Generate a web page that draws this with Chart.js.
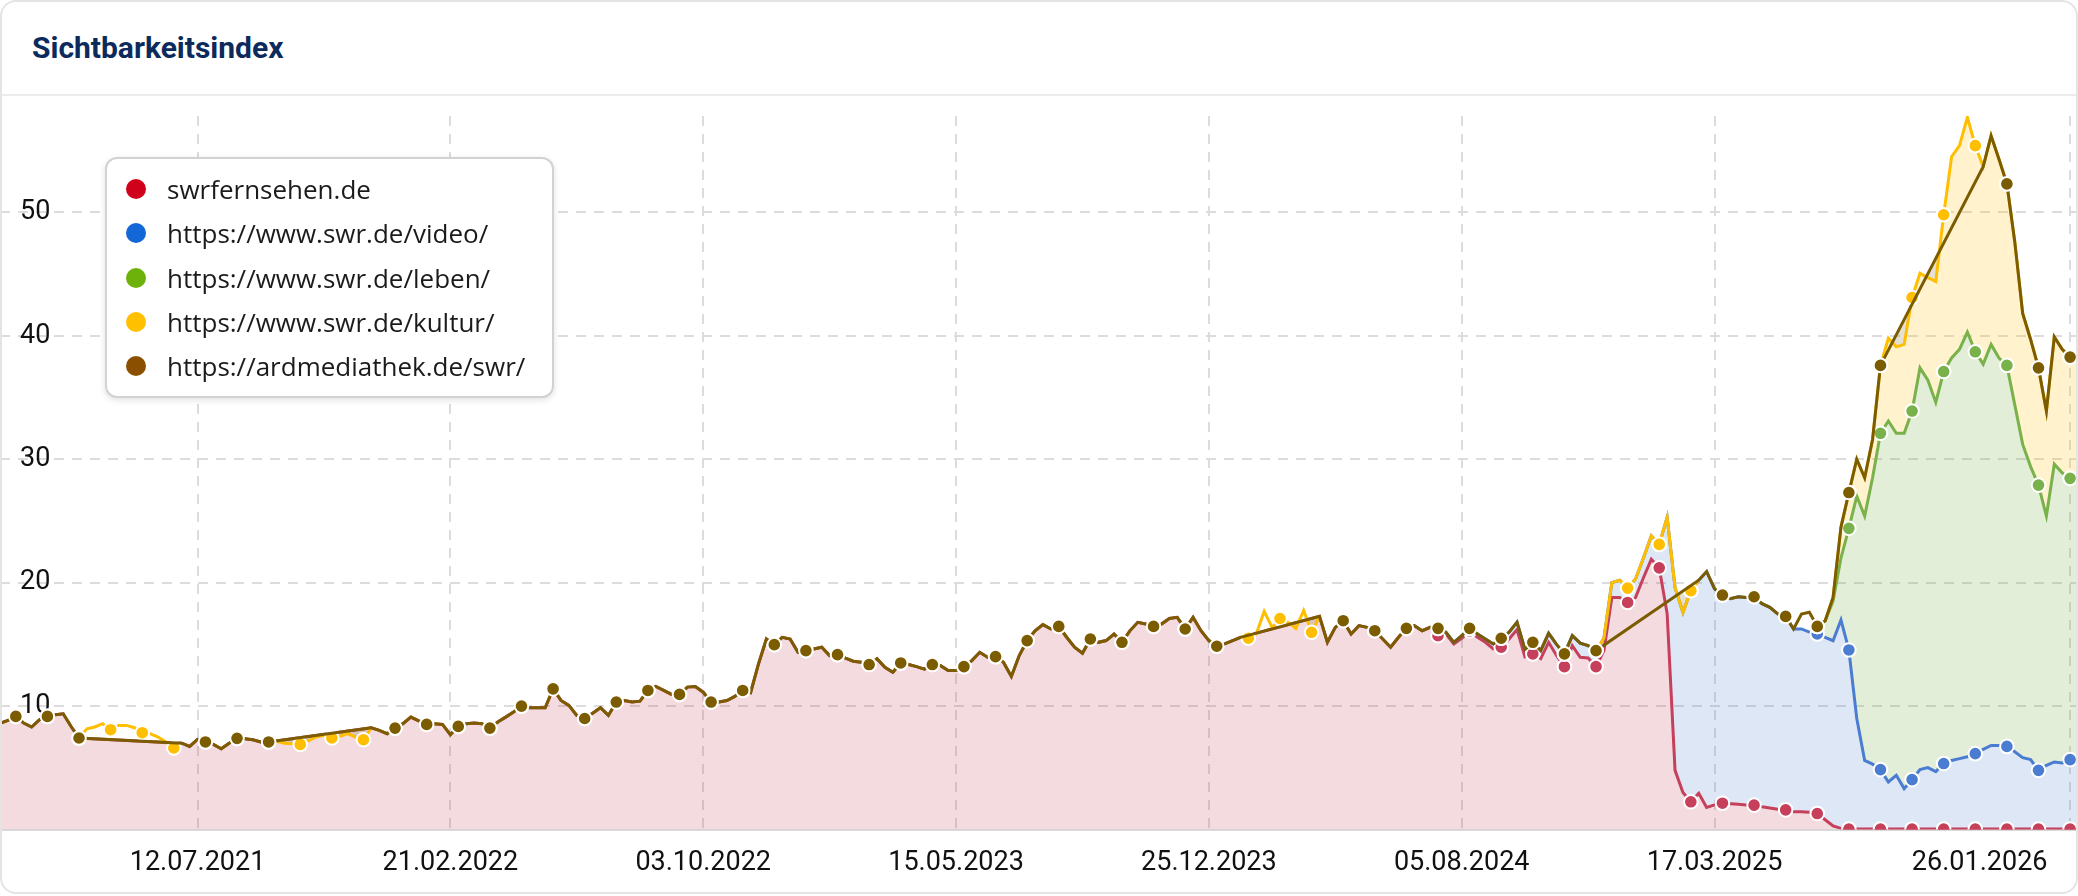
<!DOCTYPE html>
<html>
<head>
<meta charset="utf-8">
<script src="https://cdn.jsdelivr.net/npm/chart.js@4.4.1/dist/chart.umd.min.js"></script>
<style>
  html, body { margin: 0; padding: 0; background: #ffffff; }
  #card { position: relative; width: 2078px; height: 896px; overflow: hidden; background: #fff; font-family: Roboto, "Noto Sans", sans-serif; }
  #frame { position: absolute; left: 0; top: 0; width: 2074px; height: 890px; border: 2px solid #e4e4e4; border-radius: 16px; pointer-events: none; z-index: 5; }
  #title { position: absolute; left: 32px; top: 28px; font-weight: 700; font-size: 30px; line-height: 40px; color: #0c2b5c; }
  #sep { position: absolute; left: 0; top: 94px; width: 2078px; height: 2px; background: #ececec; }
  #wrap { position: absolute; left: 0; top: 96px; width: 2078px; height: 800px; }
  #legend { position: absolute; left: 105px; top: 157px; width: 449px; box-sizing: border-box; padding: 8px 0; background: #fff; border: 2px solid #d2d2d2; border-radius: 12px; box-shadow: 0 2px 6px rgba(0,0,0,0.12); z-index: 4; }
  .row { display: flex; align-items: center; height: 44.3px; }
  .dot { width: 20px; height: 20px; border-radius: 50%; margin-left: 19px; flex: none; }
  .txt { margin-left: 21px; font-family: "Open Sans", Roboto, sans-serif; font-size: 26px; color: #1b1b1b; white-space: nowrap; }
</style>
</head>
<body>
<div id="card">
  <div id="title">Sichtbarkeitsindex</div>
  <div id="sep"></div>
  <div id="wrap"><canvas id="c"></canvas></div>
  <div id="legend"></div>
  <div id="frame"></div>
</div>
<script>
// ---- categories (weekly) and tick labels ----
const firstWeekUTC = [2021, 0, 18];
const weekCount = 264;
const weeks = [];
for (let i = 0; i < weekCount; i++) {
  const d = new Date(Date.UTC(firstWeekUTC[0], firstWeekUTC[1], firstWeekUTC[2] + 7 * i));
  weeks.push(String(d.getUTCDate()).padStart(2, '0') + '.' + String(d.getUTCMonth() + 1).padStart(2, '0') + '.' + d.getUTCFullYear());
}
const tickLabels = ['12.07.2021', '21.02.2022', '03.10.2022', '15.05.2023', '25.12.2023', '05.08.2024', '17.03.2025', '26.01.2026'];
const yTicks = [10, 20, 30, 40, 50];

const seriesNames = ['swrfernsehen.de', 'https://www.swr.de/video/', 'https://www.swr.de/leben/', 'https://www.swr.de/kultur/', 'https://ardmediathek.de/swr/'];

// ---- series values (one per week, null = no value) ----
const swrfernsehen = [
8.6,8.85,9.17,8.63,8.31,8.9,9.17,9.3,9.38,8.35,7.42,
null,null,null,null,null,null,null,null,null,null,null,null,
7.0,6.74,7.3,7.1,6.9,6.55,7.0,7.39,7.36,7.28,7.1,7.1,
null,null,null,null,null,null,null,null,null,null,null,null,
8.25,8.04,7.77,8.22,8.58,9.11,8.8,8.52,8.58,8.52,7.69,8.36,8.58,8.63,8.58,8.22,8.71,9.11,9.52,10.0,
9.87,9.87,9.87,11.4,10.46,10.06,9.25,9.0,9.43,9.87,9.25,10.33,10.46,10.33,10.4,11.27,11.59,11.27,10.95,10.95,11.54,11.59,11.13,10.33,10.33,10.46,10.79,11.27,11.1,13.42,
15.44,14.98,15.57,15.44,14.36,14.5,14.63,14.77,14.09,14.17,13.88,13.64,13.56,13.37,13.83,13.15,12.75,13.5,13.37,13.2,13.0,13.37,13.29,12.88,12.88,13.2,13.69,14.36,13.96,14.01,13.56,12.4,14.1,15.31,
16.1,16.6,16.25,16.46,15.58,14.77,14.28,15.44,15.17,15.31,15.84,15.17,16.1,16.79,16.65,16.46,16.65,17.1,17.19,16.25,17.19,16.11,15.31,14.85,15.04,15.31,15.57,
null,null,null,null,null,null,null,null,null,
17.27,15.17,16.38,16.92,15.85,16.52,16.38,16.11,15.44,14.77,15.58,16.3,16.52,16.11,16.38,
15.7,15.85,15.04,15.5,16.1,15.58,15.17,14.63,14.77,15.44,16.2,14.0,14.23,13.85,15.17,14.1,13.2,14.9,13.96,13.9,13.2,
14.5,18.8,18.8,18.4,18.8,20.4,21.9,21.2,17.5,4.8,3.0,2.25,2.95,1.8,2.0,2.14,2.1,2.05,2.0,1.98,1.85,1.75,1.65,1.6,1.45,1.44,1.4,1.3,0.8,0.3,0.1,
0.05,0.05,0.05,0.05,0.05,0.05,0.05,0.05,0.05,0.05,0.05,0.05,0.05,0.05,0.05,0.05,0.05,0.05,0.05,0.05,0.05,0.05,0.05,0.05,0.05,0.05,0.05,0.05,0.05,0.05
];

const swrVideo = [
null,null,null,null,null,null,null,null,null,null,null,null,null,null,null,null,null,null,null,null,
null,null,null,null,null,null,null,null,null,null,null,null,null,null,null,null,null,null,null,null,
null,null,null,null,null,null,null,null,null,null,null,null,null,null,null,null,null,null,null,null,
null,null,null,null,null,null,null,null,null,null,null,null,null,null,null,null,null,null,null,null,
null,null,null,null,null,null,null,null,null,null,null,null,null,null,null,null,null,null,null,null,
null,null,null,null,null,null,null,null,null,null,null,null,null,null,null,null,null,null,null,null,
null,null,null,null,null,null,null,null,null,null,null,null,null,null,null,null,null,null,null,null,
null,null,null,null,null,null,null,null,null,null,null,null,null,null,null,null,null,null,null,null,
null,null,null,null,null,null,null,null,null,null,null,null,null,null,null,null,null,null,null,null,
null,null,
16.3,15.98,15.17,15.71,16.3,15.85,15.44,15.04,15.5,16.0,16.8,14.6,15.17,14.5,15.9,15.0,14.23,15.71,15.1,14.9,14.5,
15.5,20.0,20.2,19.56,20.3,22.0,23.8,23.1,25.3,19.6,17.6,19.35,
20.2,20.9,19.5,19.0,18.7,18.86,18.8,18.86,18.3,18.0,17.47,17.27,
16.25,16.25,16.0,15.85,15.57,15.3,16.98,14.55,9.0,5.6,5.3,4.86,3.86,4.4,3.32,4.05,4.86,5.02,4.7,5.35,5.6,5.75,5.9,6.15,6.5,6.82,6.82,6.74,6.3,5.83,5.67,4.8,5.2,5.48,5.4,5.67,5.67
];

const swrLeben = [
null,null,null,null,null,null,null,null,null,null,null,null,null,null,null,null,null,null,null,null,
null,null,null,null,null,null,null,null,null,null,null,null,null,null,null,null,null,null,null,null,
null,null,null,null,null,null,null,null,null,null,null,null,null,null,null,null,null,null,null,null,
null,null,null,null,null,null,null,null,null,null,null,null,null,null,null,null,null,null,null,null,
null,null,null,null,null,null,null,null,null,null,null,null,null,null,null,null,null,null,null,null,
null,null,null,null,null,null,null,null,null,null,null,null,null,null,null,null,null,null,null,null,
null,null,null,null,null,null,null,null,null,null,null,null,null,null,null,null,null,null,null,null,
null,null,null,null,null,null,null,null,null,null,null,null,null,null,null,null,null,null,null,null,
null,null,null,null,null,null,null,null,null,null,null,null,null,null,null,null,null,null,null,null,
null,null,null,null,null,null,null,null,null,null,null,null,null,null,null,null,null,null,null,null,
null,null,null,null,null,null,null,null,null,null,null,null,null,null,null,null,null,null,null,null,
null,null,null,null,null,null,null,null,null,null,
16.46,16.9,18.5,22.0,24.4,27.0,25.4,28.5,32.1,33.1,32.1,32.1,33.9,37.4,36.4,34.6,37.1,38.2,38.9,40.3,38.7,37.7,39.3,38.2,37.6,34.4,31.2,29.4,27.9,25.4,29.6,28.9,28.45,28.4
];

const swrKultur = [
null,null,null,null,null,null,null,null,null,null,
7.42,8.17,8.31,8.58,8.09,8.44,8.44,8.25,7.85,7.77,7.5,7.1,6.61,7.0,
null,null,null,null,null,null,null,null,null,null,
7.1,7.15,7.0,6.95,6.9,7.18,7.5,7.63,7.42,7.55,7.77,7.5,7.28,8.25,
null,null,null,null,null,null,null,null,null,null,null,null,null,null,null,null,null,null,null,null,
null,null,null,null,null,null,null,null,null,null,null,null,null,null,null,null,null,null,null,null,
null,null,null,null,null,null,null,null,null,null,null,null,null,null,null,null,null,null,null,null,
null,null,null,null,null,null,null,null,null,null,null,null,null,null,null,null,null,null,null,null,
null,null,null,null,null,null,null,null,null,null,null,null,null,null,null,null,null,null,null,null,
null,null,null,null,null,null,null,null,null,
15.57,15.5,15.85,17.67,16.38,17.1,16.8,16.3,17.75,15.98,17.27,
null,null,null,null,null,null,null,null,null,null,null,null,null,null,null,null,null,
null,null,null,null,null,null,null,null,null,null,null,null,null,null,null,null,null,
14.5,15.5,20.0,20.2,19.56,20.3,22.0,23.8,23.1,25.3,19.6,17.6,19.35,20.2,
null,null,null,null,null,null,null,null,null,null,null,null,null,null,
16.46,16.92,18.8,24.5,27.3,30.0,28.5,31.6,37.6,39.8,39.1,39.3,43.1,45.06,44.7,44.4,49.8,54.5,55.4,57.7,55.4,53.7,56.2,54.3,52.3,47.6,41.8,39.7,37.4,33.9,39.9,38.9,38.27,38.3
];

const ardMediathek = [
8.6,8.85,9.17,8.63,8.31,8.9,9.17,9.3,9.38,8.35,7.42,
null,null,null,null,null,null,null,null,null,null,null,null,
7.0,6.74,7.3,7.1,6.9,6.55,7.0,7.39,7.36,7.28,7.1,7.1,
null,null,null,null,null,null,null,null,null,null,null,null,
8.25,8.04,7.77,8.22,8.58,9.11,8.8,8.52,8.58,8.52,7.69,8.36,8.58,8.63,8.58,8.22,8.71,9.11,9.52,10.0,
9.87,9.87,9.87,11.4,10.46,10.06,9.25,9.0,9.43,9.87,9.25,10.33,10.46,10.33,10.4,11.27,11.59,11.27,10.95,10.95,11.54,11.59,11.13,10.33,10.33,10.46,10.79,11.27,11.1,13.42,
15.44,14.98,15.57,15.44,14.36,14.5,14.63,14.77,14.09,14.17,13.88,13.64,13.56,13.37,13.83,13.15,12.75,13.5,13.37,13.2,13.0,13.37,13.29,12.88,12.88,13.2,13.69,14.36,13.96,14.01,13.56,12.4,14.1,15.31,
16.1,16.6,16.25,16.46,15.58,14.77,14.28,15.44,15.17,15.31,15.84,15.17,16.1,16.79,16.65,16.46,16.65,17.1,17.19,16.25,17.19,16.11,15.31,14.85,15.04,15.31,15.57,
null,null,null,null,null,null,null,null,null,
17.27,15.17,16.38,16.92,15.85,16.52,16.38,16.11,15.44,14.77,15.58,16.3,16.52,16.11,16.38,16.3,15.98,15.17,15.71,16.3,15.85,15.44,15.04,15.5,16.0,16.8,14.6,15.17,14.5,15.9,15.0,14.23,15.71,15.1,14.9,14.5,
null,null,null,null,null,null,null,null,null,null,null,null,
20.2,20.9,19.5,19.0,18.7,18.86,18.8,18.86,18.3,18.0,17.47,17.27,16.25,17.46,17.6,16.46,16.92,18.8,24.5,27.3,30.0,28.5,31.6,37.6,
null,null,null,null,null,null,null,null,null,null,null,null,
53.7,56.2,54.3,52.3,47.6,41.8,39.7,37.4,33.9,39.9,38.9,38.27,38.3
];

// ---- colours ----
const lineColors = ['#c63f5b', '#4a7dd1', '#79b14a', '#ffbe00', '#7b5c00'];
const fillColors = ['rgba(198,63,91,0.19)', 'rgba(74,125,209,0.19)', 'rgba(121,177,74,0.21)', 'rgba(255,190,0,0.2)', 'rgba(120,100,30,0.2)'];
const legendColors = ['#d0021b', '#1467d6', '#6cb20a', '#ffc000', '#8a5000'];

// ---- legend (HTML) ----
const legendEl = document.getElementById('legend');
seriesNames.forEach((name, i) => {
  const row = document.createElement('div'); row.className = 'row';
  const dot = document.createElement('span'); dot.className = 'dot'; dot.style.background = legendColors[i];
  const t = document.createElement('span'); t.className = 'txt'; t.textContent = name;
  row.appendChild(dot); row.appendChild(t); legendEl.appendChild(row);
});

const tickIdx = new Set(tickLabels.map(l => weeks.indexOf(l)));
const lastTick = weeks.indexOf(tickLabels[tickLabels.length - 1]);

function ds(i, data, fill, order, spanGaps) {
  return {
    label: seriesNames[i], data, order, spanGaps, fill,
    borderColor: lineColors[i], backgroundColor: fillColors[i],
    borderWidth: 3, tension: 0,
    pointRadius: ctx => (ctx.dataIndex % 4 === 2 ? 6.8 : 0),
    pointHoverRadius: ctx => (ctx.dataIndex % 4 === 2 ? 6.8 : 0),
    pointBackgroundColor: lineColors[i], pointBorderColor: '#ffffff', pointBorderWidth: 2
  };
}

Chart.defaults.font.family = 'Roboto, "Noto Sans", sans-serif';
new Chart(document.getElementById('c'), {
  type: 'line',
  data: {
    labels: weeks,
    datasets: [
      ds(0, swrfernsehen, 'origin', 5, true),
      ds(1, swrVideo, '-1', 4, true),
      ds(2, swrLeben, '-1', 3, true),
      ds(3, swrKultur, '-1', 2, false),
      ds(4, ardMediathek, { target: '-1', above: fillColors[4], below: 'rgba(0,0,0,0)' }, 1, true)
    ]
  },
  options: {
    responsive: true, maintainAspectRatio: false, animation: false, devicePixelRatio: 1,
    layout: { padding: { top: 20, bottom: 0, left: 0, right: 0 } },
    plugins: { legend: { display: false }, tooltip: { enabled: false }, filler: { drawTime: 'beforeDatasetsDraw' } },
    scales: {
      x: {
        type: 'category',
        border: { display: true, color: '#d9d9d9', width: 2, dash: [10, 8] },
        grid: {
          drawTicks: false, lineWidth: 2,
          color: ctx => (ctx.tick && tickIdx.has(ctx.index) ? '#dcdcdc' : 'rgba(0,0,0,0)')
        },
        afterFit: axis => { axis.paddingLeft = 0; axis.paddingRight = 0; },
        ticks: {
          autoSkip: false, maxRotation: 0, minRotation: 0, padding: 17,
          color: '#111', font: { size: 27 },
          callback: (v, i) => {
            if (!tickIdx.has(i)) return '';
            return i === lastTick ? weeks[i] + '\u00a0'.repeat(27) : weeks[i];
          }
        }
      },
      y: {
        min: 0, max: 57.8,
        border: { display: false, dash: [10, 8] },
        grid: { drawTicks: false, lineWidth: 2, color: '#dcdcdc' },
        afterFit: axis => { axis.width = 0; axis.paddingTop = 0; axis.paddingBottom = 0; },
        ticks: {
          mirror: true, padding: 20, stepSize: 10, includeBounds: false,
          color: '#111', font: { size: 27 },
          callback: v => (yTicks.includes(v) ? String(v) : '')
        }
      }
    }
  }
});
</script>
</body>
</html>
